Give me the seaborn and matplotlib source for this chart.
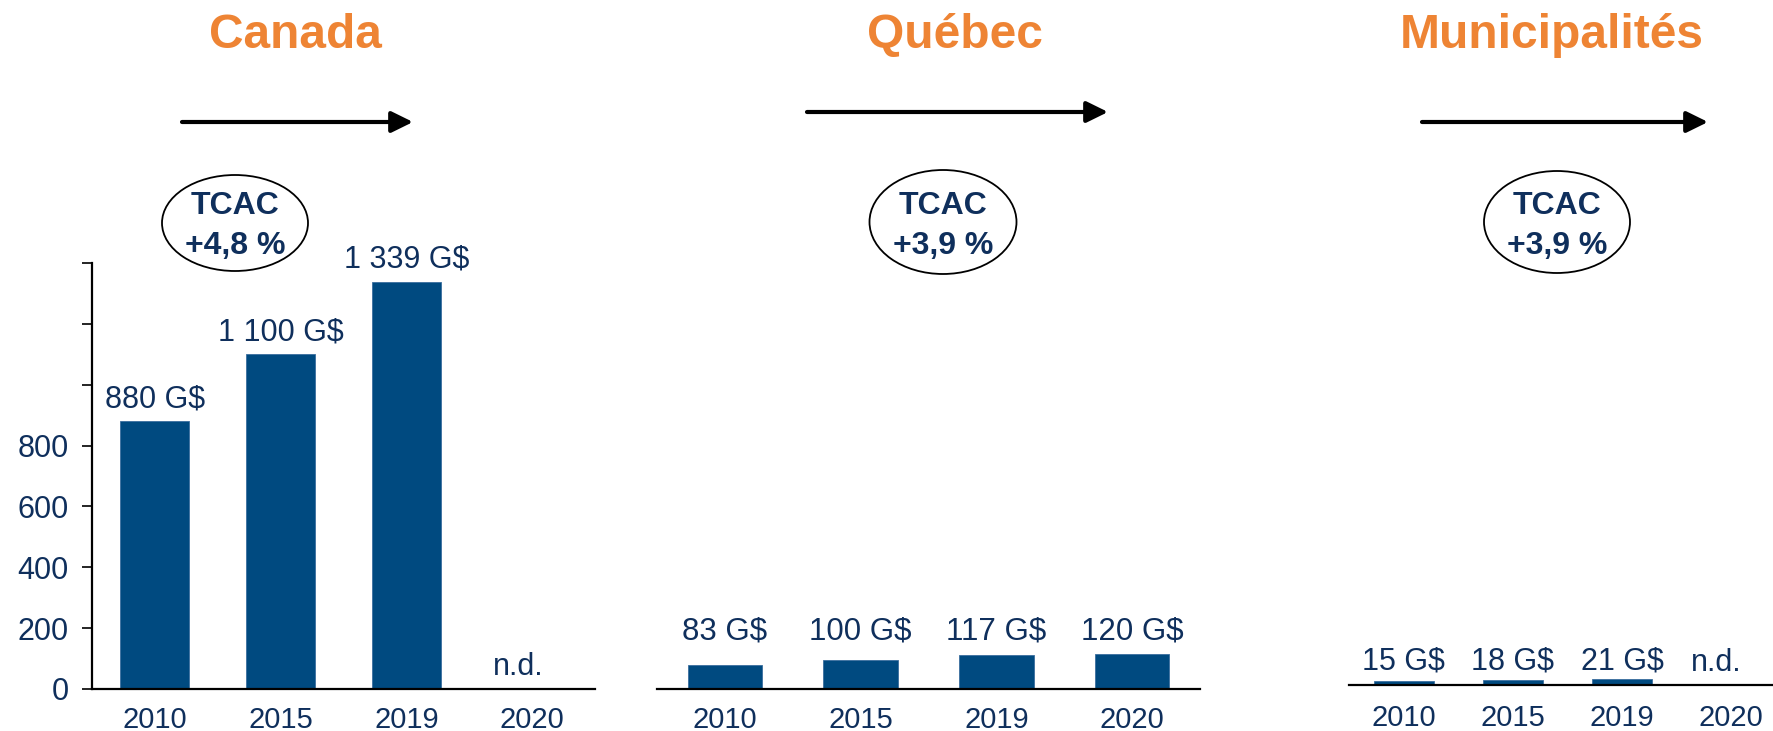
import numpy as np
import matplotlib
matplotlib.use("Agg")
import matplotlib.pyplot as plt
from matplotlib.patches import Ellipse, FancyArrowPatch
import seaborn as sns

# DONNEES

annees = ["2010", "2015", "2019", "2020"]
canada = [880, 1100, 1339, np.nan]
quebec = [83, 100, 117, 120]
municipalites = [15, 18, 21, np.nan]
titres = ["Canada", "Québec", "Municipalités"]
tcac = ["+4,8 %", "+3,9 %", "+3,9 %"]
yticks_canada = [0, 200, 400, 600, 800, 1000, 1200, 1400]

BLEU = "#004A80"
MARINE = "#0F2F5C"
ORANGE = "#EE8434"
W, H = 1773, 731

sns.set_style("white")
plt.rcParams["font.family"] = ["Liberation Sans", "DejaVu Sans"]


def fx(px):
    return px / W


def fy(py):
    return 1 - py / H


def etiquette(v):
    """880 -> '880 G$', 1339 -> '1 339 G$', nan -> 'n.d.'"""
    if np.isnan(v):
        return "n.d."
    return f"{int(v):,}".replace(",", " ") + " G$"


def panneau(ax, valeurs, fs_val, fs_tick, pad_tick, y_label=None, decal_nd=-14):
    """Un panneau de barres; y_label=None -> étiquette au-dessus de chaque barre."""
    xs = [a for a, v in zip(annees, valeurs) if not np.isnan(v)]
    ys = [v for v in valeurs if not np.isnan(v)]
    sns.barplot(x=xs, y=ys, order=annees, color=BLEU, saturation=1,
                width=0.55, ax=ax, edgecolor="#3A6E9E", linewidth=0.6)
    ax.set_ylim(0, 1400)
    ax.set_xlim(-0.5, 3.5)
    ax.set_xlabel("")
    ax.set_ylabel("")
    for i, v in enumerate(valeurs):
        if np.isnan(v):
            ax.annotate("n.d.", (i, 0), xytext=(decal_nd * 0.72, 10),
                        textcoords="offset points", ha="center", va="baseline",
                        fontsize=fs_val, color=MARINE)
        elif y_label is None:
            ax.annotate(etiquette(v), (i, v), xytext=(0, 10),
                        textcoords="offset points", ha="center", va="baseline",
                        fontsize=fs_val, color=MARINE)
        else:
            ax.text(i, y_label, etiquette(v), ha="center", va="baseline",
                    fontsize=fs_val, color=MARINE)
    ax.tick_params(axis="x", length=0, pad=pad_tick, labelsize=fs_tick, labelcolor=MARINE)
    for s in ["top", "right", "left"]:
        ax.spines[s].set_visible(False)
    ax.spines["bottom"].set_color("black")
    ax.spines["bottom"].set_linewidth(1.6)
    ax.set_yticks([])


fig = plt.figure(figsize=(W / 100, H / 100), dpi=100)

# CANADA
ax1 = fig.add_axes([fx(92), fy(689), (595 - 92) / W, 426 / H])
panneau(ax1, canada, 22, 21, 12)
ax1.spines["left"].set_visible(True)
ax1.spines["left"].set_color("black")
ax1.spines["left"].set_linewidth(1.6)
ax1.set_yticks(yticks_canada)
ax1.set_yticklabels([str(t) if t <= 800 else "" for t in yticks_canada])
ax1.tick_params(axis="y", left=True, length=7, width=1.2, color="black",
                pad=10, labelsize=22, labelcolor=MARINE)

# QUEBEC
ax2 = fig.add_axes([fx(657), fy(689), (1200 - 657) / W, 406 / H])
panneau(ax2, quebec, 22.5, 21, 12, y_label=172)

# MUNICIPALITES
ax3 = fig.add_axes([fx(1349), fy(685), (1786 - 1349) / W, 406 / H])
panneau(ax3, municipalites, 22, 21, 14, y_label=55, decal_nd=-15)

# TITRES, FLECHES, BULLES TCAC
centres_titre = [295, 955, 1552]
fleches = [(182, 413, 122), (807, 1108, 112), (1422, 1708, 122)]
bulles = [(235, 223, 146, 96), (943, 222, 147, 104), (1557, 222, 146, 102)]

for titre, cx in zip(titres, centres_titre):
    fig.text(fx(cx), fy(48), titre, ha="center", va="baseline",
             fontsize=34.5, fontweight="bold", color=ORANGE)

for x0, x1, y in fleches:
    fig.add_artist(FancyArrowPatch((fx(x0), fy(y)), (fx(x1), fy(y)),
                                   transform=fig.transFigure,
                                   arrowstyle="-|>,head_length=0.65,head_width=0.32",
                                   mutation_scale=20, lw=3, color="black",
                                   shrinkA=0, shrinkB=0))

for (cx, cy, w, h), t in zip(bulles, tcac):
    fig.add_artist(Ellipse((fx(cx), fy(cy)), w / W, h / H, transform=fig.transFigure,
                           fill=False, edgecolor="black", lw=1.3))
    fig.text(fx(cx), fy(214), "TCAC", ha="center", va="baseline",
             fontsize=23, fontweight="bold", color=MARINE)
    fig.text(fx(cx), fy(254), t, ha="center", va="baseline",
             fontsize=23, fontweight="bold", color=MARINE)

plt.savefig("out.png", dpi=100)
